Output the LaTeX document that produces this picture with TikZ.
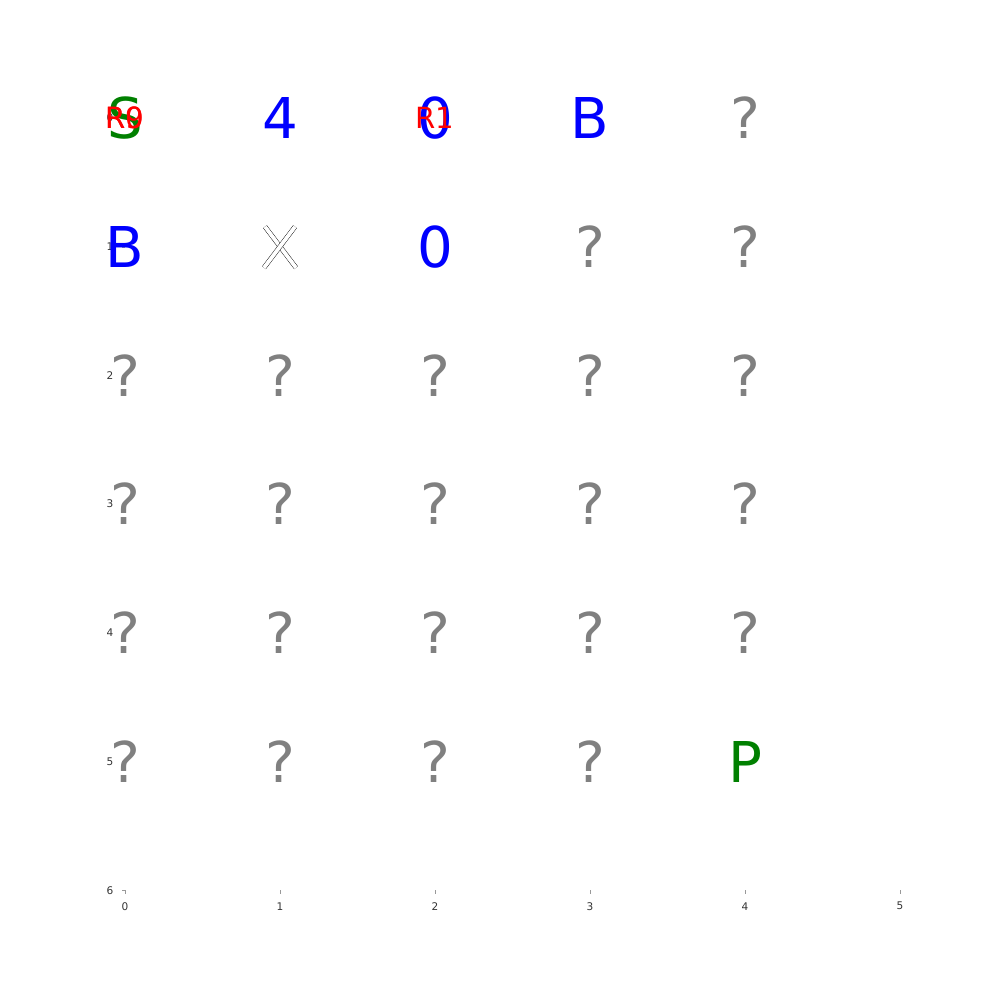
\documentclass[tikz,border=0pt]{standalone}
\usepackage{fontspec}
\setmainfont{DejaVu Sans}

\definecolor{mplblue}{RGB}{0,0,255}
\definecolor{mplgreen}{RGB}{0,128,0}
\definecolor{mplgray}{RGB}{128,128,128}
\definecolor{mplred}{RGB}{255,0,0}

\tikzset{
  cell/.style={inner sep=0pt, font=\fontsize{16}{16}\selectfont},
  known/.style={cell, text=mplblue},
  endpoint/.style={cell, text=mplgreen},
  unknown/.style={cell, text=mplgray},
  robot/.style={inner sep=0pt, text=mplred, font=\fontsize{8.3}{8.3}\selectfont},
  ticklabel/.style={inner sep=0pt, text=black!80, font=\fontsize{3}{3}\selectfont},
  tickmark/.style={draw=black!40, line width=0.08pt},
  hollow/.style={draw=black, line width=0.12pt, double=white, double distance=0.38mm}
}

\def\xs{1.55cm}
\def\ys{-1.287cm}

\begin{document}
\begin{tikzpicture}[x=\xs, y=\ys]
    \path[use as bounding box] (-1.25cm, 1.18cm) rectangle (8.75cm, -8.82cm);

    % axis ticks and labels
    \foreach \i in {0,...,5}
      {
        \draw[tickmark] (\i, 6) -- ++(0, -0.35mm);
        \node[ticklabel] (xtick\i) at ([yshift=-1.6mm]\i, 6) {\i};
      }
    \foreach \j in {0,...,6}
      {
        \draw[tickmark] (0, \j) -- ++(-0.35mm, 0);
        \node[ticklabel] (ytick\j) at ([xshift=-1.5mm]0, \j) {\j};
      }

    % unexplored cells
    \foreach \i/\j in {4/0, 3/1, 4/1,
                       0/2, 1/2, 2/2, 3/2, 4/2,
                       0/3, 1/3, 2/3, 3/3, 4/3,
                       0/4, 1/4, 2/4, 3/4, 4/4,
                       0/5, 1/5, 2/5, 3/5}
      \node[unknown] (q\i\j) at (\i, \j) {?};

    % known cells
    \node[endpoint] (start) at (0, 0) {S};
    \node[known]    (c10)   at (1, 0) {4};
    \node[known]    (c20)   at (2, 0) {0};
    \node[known]    (c30)   at (3, 0) {B};
    \node[known]    (c01)   at (0, 1) {B};
    \node[known]    (c21)   at (2, 1) {0};
    \node[endpoint] (goal)  at (4, 5) {P};

    % blocked cell
    \coordinate (wall) at (1, 1);
    \draw[hollow] ([xshift=-1.5mm, yshift=2mm]wall) -- ([xshift=1.6mm, yshift=-2.1mm]wall);
    \draw[hollow] ([xshift=1.5mm, yshift=2mm]wall) -- ([xshift=-1.6mm, yshift=-2.1mm]wall);

    % robots
    \node[robot] (r9) at (0, 0) {R9};
    \node[robot] (r0) at (0, 0) {R0};
    \node[robot] (r1) at (2, 0) {R1};
  \end{tikzpicture}
\end{document}
